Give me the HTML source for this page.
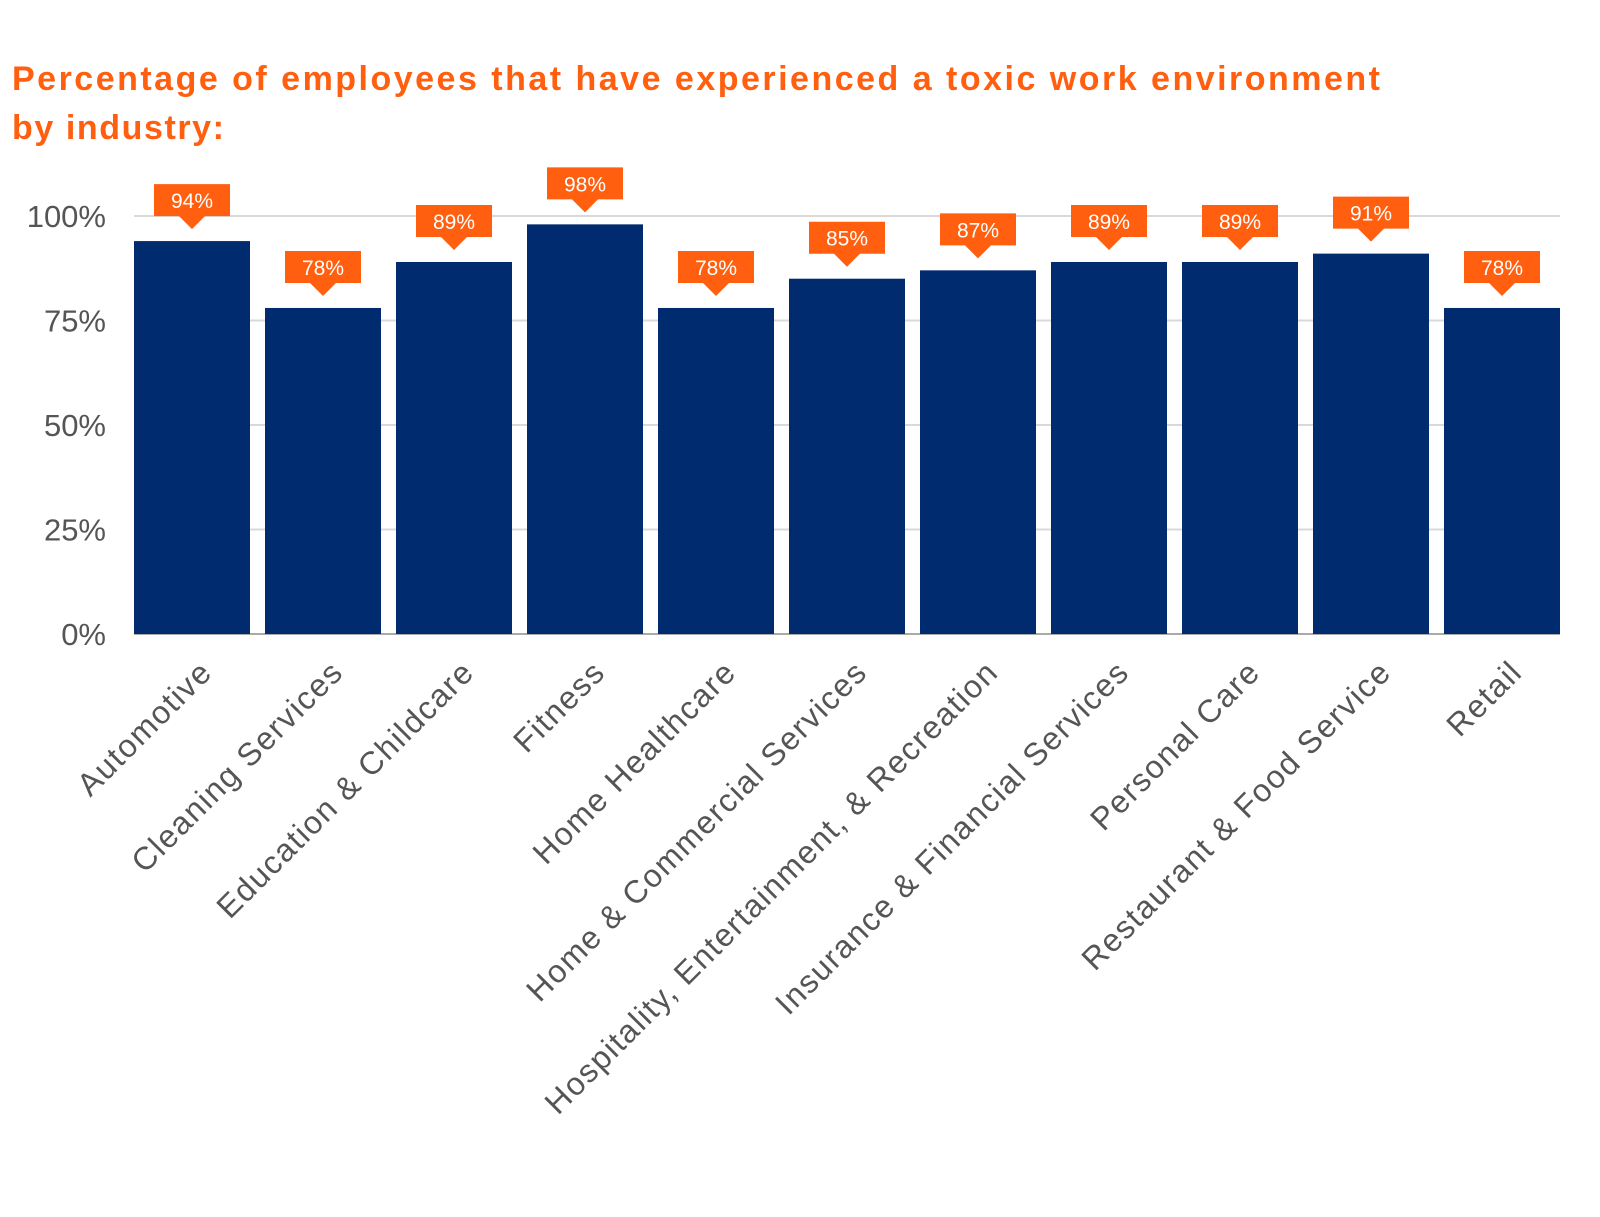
<!DOCTYPE html>
<html><head><meta charset="utf-8"><style>
body{margin:0;background:#fff;font-family:"Liberation Sans",sans-serif}
</style></head><body>
<svg width="1600" height="1212" xmlns="http://www.w3.org/2000/svg">
<text x="12" y="90" fill="#FF5F0F" font-size="34" font-weight="bold" textLength="1368" lengthAdjust="spacing">Percentage of employees that have experienced a toxic work environment</text>
<text x="12" y="139" fill="#FF5F0F" font-size="34" font-weight="bold" textLength="212" lengthAdjust="spacing">by industry:</text>
<g id="grid"></g><g id="bars"></g><g id="labels"></g><g id="xl"></g>
</svg>
<script>
const categories=["Automotive","Cleaning Services","Education & Childcare","Fitness","Home Healthcare","Home & Commercial Services","Hospitality, Entertainment, & Recreation","Insurance & Financial Services","Personal Care","Restaurant & Food Service","Retail"];
const values=[94,78,89,98,78,85,87,89,89,91,78];
const ticks=[0,25,50,75,100];
const NS="http://www.w3.org/2000/svg";
const x0=134,band=131,bw=116,y0=634,yTop=216;
const y=v=>y0-(y0-yTop)*v/100;
const xc=i=>x0+i*band+bw/2;
function mk(t,a,p){const e=document.createElementNS(NS,t);for(const k in a)e.setAttribute(k,a[k]);p.appendChild(e);return e;}
const g=document.getElementById('grid'),b=document.getElementById('bars'),l=document.getElementById('labels'),xl=document.getElementById('xl');
ticks.forEach(t=>{
 const ln=mk('line',{x1:x0,x2:1560,y1:y(t),y2:y(t),stroke:t?'#d9d9d9':'#aaa','stroke-width':2},g);
 
 
 const tx=mk('text',{x:106,y:y(t)+11,'text-anchor':'end','font-size':31,fill:'#555'},g);
 tx.textContent=t+'%';
 
 
});
values.forEach((v,i)=>{
 const r=mk('rect',{x:x0+i*band,y:y(v),width:bw,height:y0-y(v),fill:'#012B6F'},b);
 
 
 const c=xc(i),top=y(v)-57;
 const p=mk('path',{d:`M${c-38},${top}h76v32h-25l-13,13l-13,-13h-25z`,fill:'#FF5F0F'},l);
 
 
 const t=mk('text',{x:c,y:top+24,'text-anchor':'middle','font-size':21,fill:'#fff'},l);
 t.textContent=v+'%';
 
 
 const ax=c+22,ay=674;
 const xt=mk('text',{x:ax,y:ay,'text-anchor':'end','font-size':32,'letter-spacing':1.5,fill:'#555',transform:`rotate(-45 ${ax} ${ay})`},xl);
 xt.textContent=categories[i];
 
 
});
</script>
</body></html>
